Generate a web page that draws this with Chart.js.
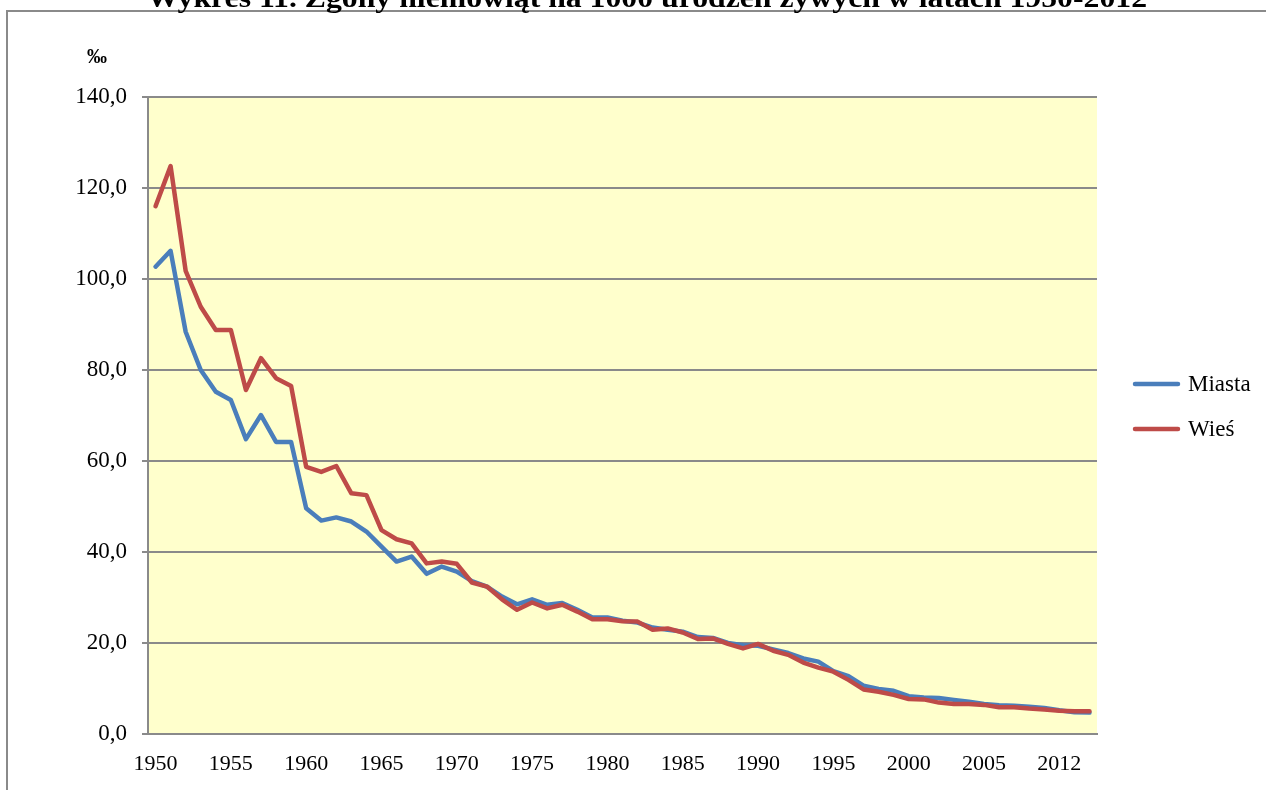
<!DOCTYPE html>
<html>
<head>
<meta charset="utf-8">
<script src="https://cdn.jsdelivr.net/npm/chart.js@4/dist/chart.umd.min.js"></script>
<style>
  body { margin: 0; background: #fff; }
  #wrap { width: 1266px; height: 790px; }
</style>
</head>
<body>
<div id="wrap"><canvas id="line-chart" width="1266" height="790"></canvas></div>
<script>
var title = "Wykres 11. Zgony niemowląt na 1000 urodzeń żywych w latach 1950-2012";
var unit = "‰";

var years = [];
for (var y = 1950; y <= 2012; y++) years.push(String(y));

// etykiety osi X co 5 lat (tak jak w oryginale, ostatnia to 2012)
var tickLabels = ["1950","1955","1960","1965","1970","1975","1980","1985","1990","1995","2000","2005","2012"];

var miasta = [102.7,106.2,88.4,80.0,75.2,73.4,64.8,70.1,64.2,64.2,
              49.6,46.9,47.6,46.7,44.5,41.2,37.9,39.0,35.2,36.8,
              35.7,33.6,32.4,30.2,28.5,29.6,28.4,28.8,27.3,25.6,
              25.6,24.9,24.5,23.4,22.9,22.5,21.3,21.1,20.0,19.5,
              19.4,18.6,17.8,16.6,15.9,13.8,12.7,10.6,9.9,9.5,
              8.3,8.0,7.9,7.5,7.1,6.6,6.3,6.2,6.0,5.7,
              5.2,4.8,4.7];

var wies = [116.0,124.8,101.8,93.9,88.8,88.8,75.6,82.6,78.2,76.5,
            58.7,57.6,58.9,52.9,52.5,44.8,42.8,41.9,37.5,37.9,
            37.4,33.3,32.4,29.6,27.3,28.9,27.6,28.4,26.9,25.2,
            25.2,24.8,24.7,22.9,23.2,22.3,20.9,21.0,19.8,18.8,
            19.8,18.3,17.4,15.7,14.6,13.7,11.9,9.8,9.3,8.6,
            7.7,7.6,6.9,6.6,6.6,6.4,5.9,5.9,5.6,5.4,
            5.1,5.0,5.0];

var serif = "'Liberation Serif', 'Times New Roman', serif";
var gridColor = "#8a8a8a";

// tlo wykresu, ramka, tytul, legenda
var decor = {
  id: 'decor',
  beforeDraw: function(chart) {
    var ctx = chart.ctx, a = chart.chartArea;
    ctx.save();
    ctx.fillStyle = "#FFFFCC";
    ctx.fillRect(a.left, a.top, a.right - a.left, a.bottom - a.top);
    ctx.restore();
  },
  afterDraw: function(chart) {
    var ctx = chart.ctx;
    ctx.save();
    // ramka
    ctx.strokeStyle = gridColor;
    ctx.lineWidth = 2;
    ctx.beginPath();
    ctx.moveTo(1266, 11);
    ctx.lineTo(7, 11);
    ctx.lineTo(7, 790);
    ctx.stroke();

    // tytul (uciety u gory)
    ctx.fillStyle = "#000";
    ctx.font = "bold 28px " + serif;
    ctx.textBaseline = "alphabetic";
    ctx.textAlign = "center";
    var w = ctx.measureText(title).width;
    ctx.translate(647, 7);
    ctx.scale(1000 / w, 1);
    ctx.fillText(title, 0, 0);
    ctx.setTransform(1, 0, 0, 1, 0, 0);

    // jednostka
    ctx.font = "bold 20px " + serif;
    ctx.textBaseline = "middle";
    ctx.fillText(unit, 97, 58);

    // legenda
    ctx.textAlign = "left";
    ctx.font = "23px " + serif;
    chart.data.datasets.forEach(function(ds, i) {
      var ly = 384 + 45 * i;
      ctx.strokeStyle = ds.borderColor;
      ctx.lineWidth = 4.5;
      ctx.lineCap = "round";
      ctx.beginPath();
      ctx.moveTo(1135, ly);
      ctx.lineTo(1178, ly);
      ctx.stroke();
      ctx.fillStyle = "#000";
      ctx.fillText(ds.label, 1188, ly + 1);
    });
    ctx.restore();
  }
};

new Chart(document.getElementById("line-chart"), {
  type: 'line',
  data: {
    labels: years,
    datasets: [
      {
        label: "Miasta",
        data: miasta,
        borderColor: "#4A7EBB",
        backgroundColor: "#4A7EBB",
        borderWidth: 4.5,
        pointRadius: 0,
        borderJoinStyle: 'round',
        borderCapStyle: 'round',
        order: 1,
        fill: false
      },
      {
        label: "Wieś",
        data: wies,
        borderColor: "#BE4B48",
        backgroundColor: "#BE4B48",
        borderWidth: 4.5,
        pointRadius: 0,
        borderJoinStyle: 'round',
        borderCapStyle: 'round',
        order: 0,
        fill: false
      }
    ]
  },
  options: {
    responsive: false,
    animation: false,
    layout: { padding: { left: 0, top: 97, right: 169, bottom: 0 } },
    plugins: {
      legend: { display: false },
      title: { display: false },
      tooltip: { enabled: false }
    },
    scales: {
      x: {
        offset: true,
        grid: { display: false, drawTicks: false },
        border: { display: true, color: gridColor, width: 2 },
        ticks: {
          autoSkip: false,
          maxRotation: 0,
          padding: 17,
          color: "#000",
          font: { family: serif, size: 22 },
          callback: function(v, i) { return i % 5 === 0 ? tickLabels[i / 5] : null; }
        },
        afterFit: function(s) { s.height = 56; }
      },
      y: {
        min: 0,
        max: 140,
        grid: { color: gridColor, lineWidth: 2, tickLength: 6, tickColor: gridColor },
        border: { display: true, color: gridColor, width: 2 },
        ticks: {
          stepSize: 20,
          padding: 15,
          color: "#000",
          font: { family: serif, size: 23 },
          callback: function(v) { return v.toFixed(1).replace('.', ','); }
        },
        afterFit: function(s) { s.width = 148; }
      }
    }
  },
  plugins: [decor]
});
</script>
</body>
</html>
